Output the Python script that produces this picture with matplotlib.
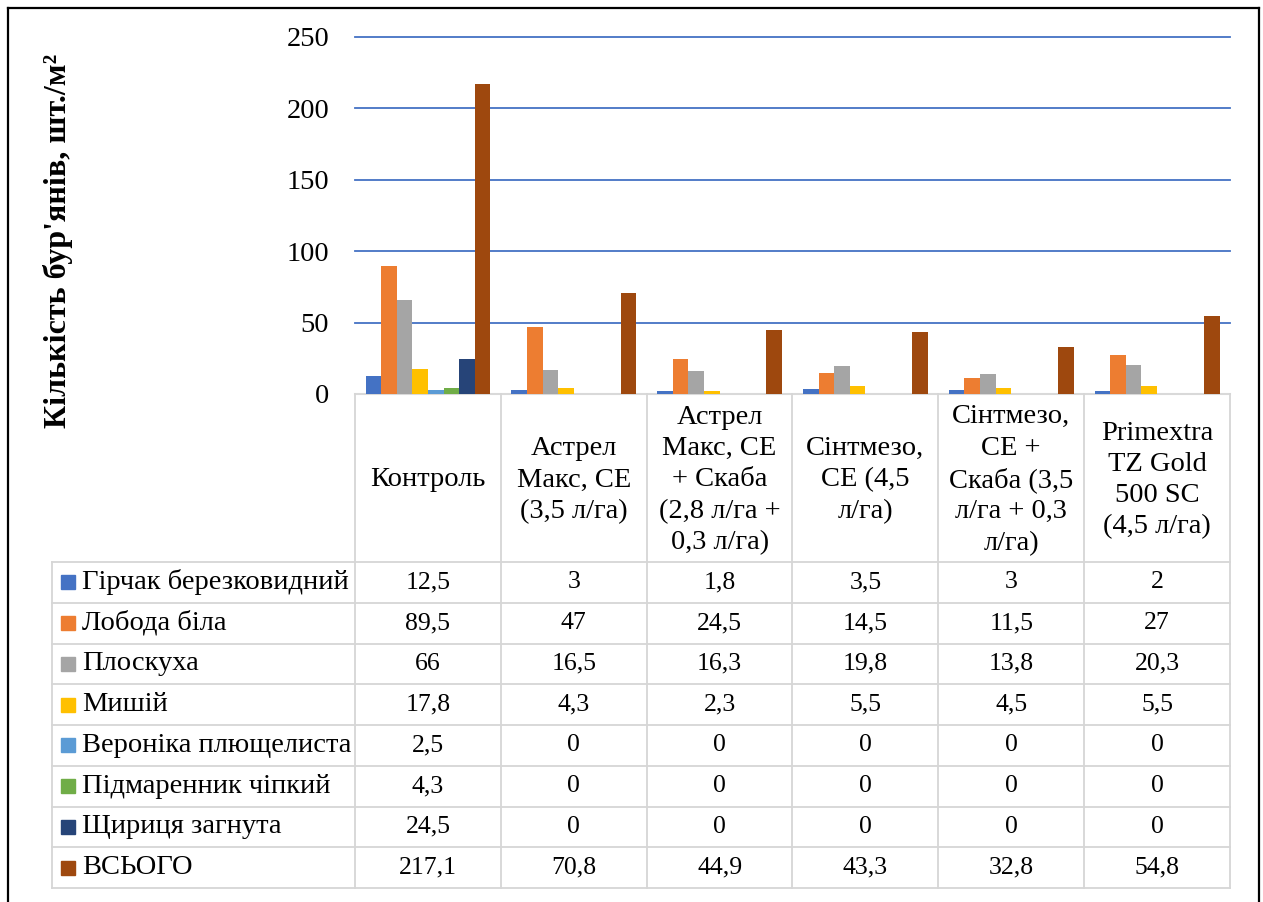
import matplotlib.pyplot as plt
from matplotlib.lines import Line2D

# === DATA ===
categories = ['Контроль',
              'Астрел\nМакс, СЕ\n(3,5 л/га)',
              'Астрел\nМакс, СЕ\n+ Скаба\n(2,8 л/га +\n0,3 л/га)',
              'Сінтмезо,\nСЕ (4,5\nл/га)',
              'Сінтмезо,\nСЕ +\nСкаба (3,5\nл/га + 0,3\nл/га)',
              'Primextra\nTZ Gold\n500 SC\n(4,5 л/га)']
series_names = ['Гірчак березковидний', 'Лобода біла', 'Плоскуха', 'Мишій',
                'Вероніка плющелиста', 'Підмаренник чіпкий', 'Щириця загнута', 'ВСЬОГО']
hirchak = [12.5, 3, 1.8, 3.5, 3, 2]
loboda = [89.5, 47, 24.5, 14.5, 11.5, 27]
ploskukha = [66, 16.5, 16.3, 19.8, 13.8, 20.3]
myshii = [17.8, 4.3, 2.3, 5.5, 4.5, 5.5]
veronika = [2.5, 0, 0, 0, 0, 0]
pidmarennyk = [4.3, 0, 0, 0, 0, 0]
shchyrytsia = [24.5, 0, 0, 0, 0, 0]
vsoho = [217.1, 70.8, 44.9, 43.3, 32.8, 54.8]
yticks = [0, 50, 100, 150, 200, 250]

series = [hirchak, loboda, ploskukha, myshii, veronika, pidmarennyk, shchyrytsia, vsoho]
colors = ['#4472C4', '#ED7D31', '#A5A5A5', '#FFC000',
          '#5B9BD5', '#70AD47', '#264478', '#9E480E']

# === LAYOUT (pixels) ===
W, H = 1263, 902
def fx(px):
    return px / W
def fy(py):
    return 1 - py / H

x0, x1 = 355, 1230
ytop, ybot = 37, 394
tleft, tbot = 52, 888
colw = (x1 - x0) / len(categories)
head_h = 168
row_h = (tbot - ybot - head_h) / len(series)

plt.rcParams['font.family'] = ['Liberation Serif', 'DejaVu Serif']
fig = plt.figure(figsize=(W / 100, H / 100), dpi=100)

# --- bar chart ---
ax = fig.add_axes([fx(x0), fy(ybot), fx(x1) - fx(x0), fy(ytop) - fy(ybot)])
n = len(series)
bw = 0.107
for i, (vals, c) in enumerate(zip(series, colors)):
    xs = [k + (i - (n - 1) / 2) * bw for k in range(len(categories))]
    ax.bar(xs, vals, width=bw, color=c, zorder=3)
for t in yticks[1:]:
    ax.axhline(t, color='#4472C4', lw=1.3, zorder=1, clip_on=False)
ax.axhline(0, color='#d9d9d9', lw=1.5, zorder=2, clip_on=False)
ax.set_xlim(-0.5, len(categories) - 0.5)
ax.set_ylim(0, 250)
ax.set_yticks(yticks)
ax.set_xticks([])
ax.tick_params(axis='y', length=0, pad=18.5, labelsize=20.5)
for s in ax.spines.values():
    s.set_visible(False)
ax.patch.set_alpha(0)

fig.text(fx(58), fy(241), "Кількість бур'янів, шт./м²", rotation=90,
         ha='center', va='center', fontsize=23, fontweight='bold')

# --- data table ---
tax = fig.add_axes([fx(tleft), fy(tbot), fx(x1) - fx(tleft), fy(ybot) - fy(tbot)])
xl = -0.5 - (x0 - tleft) / colw
xr = len(categories) - 0.5
tax.set_xlim(xl, xr)
tax.set_ylim(tbot - ybot, 0)
tax.axis('off')
gc = '#d6d6d6'
for k in range(len(categories) + 1):
    tax.plot([k - 0.5, k - 0.5], [0, tbot - ybot], color=gc, lw=1.3, clip_on=False)
tax.plot([xl, xl], [head_h, tbot - ybot], color=gc, lw=1.3, clip_on=False)
for r in range(n + 1):
    y = head_h + r * row_h
    tax.plot([xl, xr], [y, y], color=gc, lw=1.3, clip_on=False)

for k, cat in enumerate(categories):
    tax.text(k, head_h / 2 + 2, cat, ha='center', va='center', fontsize=20.5,
             linespacing=1.33)

def fmt(v):
    return f'{v:g}'.replace('.', ',')

for r, (name, vals, c) in enumerate(zip(series_names, series, colors)):
    yc = head_h + (r + 0.5) * row_h
    tax.plot([xl + (68 - tleft) / colw], [yc], marker='s', ms=9.5, color=c,
             clip_on=False)
    tax.text(xl + (82 - tleft) / colw, yc, name, ha='left', va='center',
             fontsize=20.5)
    for k, v in enumerate(vals):
        tax.text(k, yc, fmt(v), ha='center', va='center', fontsize=18.5)

# --- outer frame ---
for xs_, ys_ in [([fx(8), fx(8)], [fy(8), 0]),
                 ([fx(8), fx(1259)], [fy(8), fy(8)]),
                 ([fx(1259), fx(1259)], [fy(8), 0])]:
    fig.add_artist(Line2D(xs_, ys_, transform=fig.transFigure, color='black', lw=1.6))

fig.savefig('out.png', dpi=100)
